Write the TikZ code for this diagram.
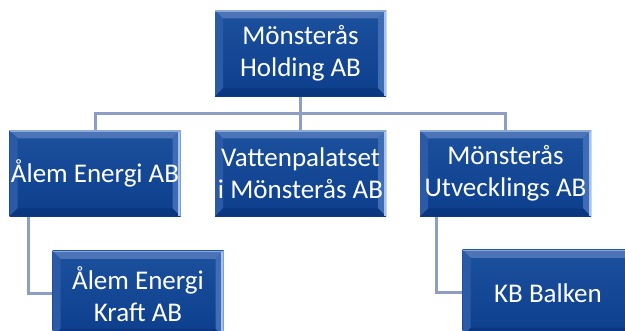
\documentclass[tikz,border=0pt]{standalone}
\usepackage{fontspec}
\setmainfont{Carlito}
\definecolor{face}{HTML}{124795}
\definecolor{facetop}{HTML}{1C519E}
\definecolor{facebot}{HTML}{0C3E8C}
\definecolor{bevtop}{HTML}{4C74B6}
\definecolor{bevleft}{HTML}{2B5BA6}
\definecolor{bevright}{HTML}{3E6CB5}
\definecolor{bevbot}{HTML}{0A3780}
\definecolor{edgehi}{HTML}{A9C2EA}
\definecolor{conncol}{HTML}{8E9DC6}
\tikzset{
  orgbox/.style={rectangle, minimum width=171pt, minimum height=86pt, inner sep=0pt,
    text=white, align=center, font=\fontsize{27}{32}\selectfont,
    top color=facetop, bottom color=facebot,
    path picture={
      \fill[bevtop] (path picture bounding box.north west) -- (path picture bounding box.north east)
        -- ([xshift=-8pt,yshift=-8pt]path picture bounding box.north east)
        -- ([xshift=8pt,yshift=-8pt]path picture bounding box.north west) -- cycle;
      \fill[bevleft] (path picture bounding box.north west) -- (path picture bounding box.south west)
        -- ([xshift=8pt,yshift=8pt]path picture bounding box.south west)
        -- ([xshift=8pt,yshift=-8pt]path picture bounding box.north west) -- cycle;
      \fill[bevright] (path picture bounding box.north east) -- (path picture bounding box.south east)
        -- ([xshift=-8pt,yshift=8pt]path picture bounding box.south east)
        -- ([xshift=-8pt,yshift=-8pt]path picture bounding box.north east) -- cycle;
      \fill[bevbot] (path picture bounding box.south west) -- (path picture bounding box.south east)
        -- ([xshift=-8pt,yshift=8pt]path picture bounding box.south east)
        -- ([xshift=8pt,yshift=8pt]path picture bounding box.south west) -- cycle;
      \fill[edgehi] ([xshift=-2.5pt]path picture bounding box.north east) rectangle (path picture bounding box.south east);
      \fill[edgehi!70!bevtop] (path picture bounding box.north west) rectangle ([yshift=-1.5pt]path picture bounding box.north east);
    }},
  conn/.style={draw=conncol, line width=3pt}
}
\begin{document}
\begin{tikzpicture}[x=1pt,y=-1pt]
\useasboundingbox[fill=white] (0,0) rectangle (625,331);
\node[orgbox] (top) at (300.5,53.5) {Mönsterås\\Holding AB};
\node[orgbox] (alem) at (95,173.5) {Ålem Energi AB};
\node[orgbox] (vatten) at (300.5,173.5) {Vattenpalatset\\i Mönsterås AB};
\node[orgbox] (utv) at (505.5,173.5) {Mönsterås\\Utvecklings AB};
\node[orgbox] (kraft) at (138,294) {Ålem Energi\\Kraft AB};
\node[orgbox] (kb) at (548,293) {KB Balken};
\coordinate (busy) at (0,113.5);
\draw[conn] (top.south) -- (top.south |- busy);
\draw[conn] (alem.north) -- (alem.north |- busy) -- (utv.north |- busy) -- (utv.north);
\draw[conn] (vatten.north) -- (vatten.north |- busy);
\draw[conn] ([xshift=19pt]alem.south west) |- (kraft.west);
\draw[conn] ([xshift=17pt]utv.south west) |- (kb.west);
\end{tikzpicture}
\end{document}
